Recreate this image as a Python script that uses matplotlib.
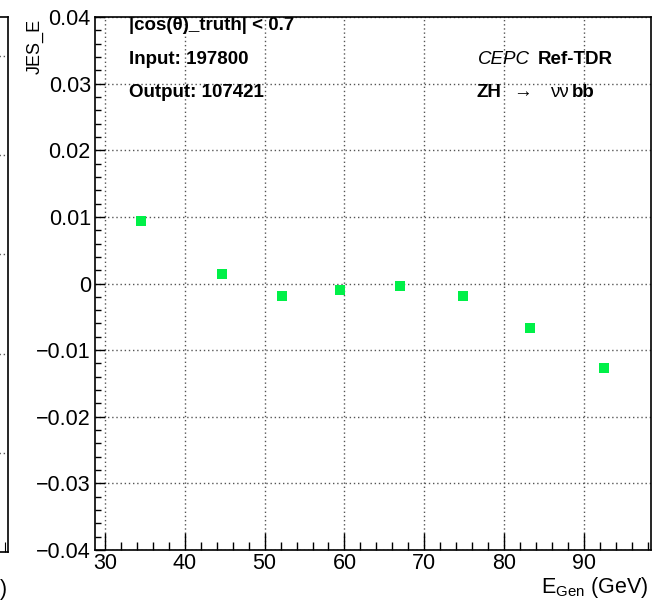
import numpy as np
import matplotlib
matplotlib.use("Agg")
from matplotlib import pyplot as plt
from matplotlib.ticker import MultipleLocator

plt.rcParams['font.family'] = ['Liberation Sans', 'DejaVu Sans']
plt.rcParams['mathtext.fontset'] = 'custom'
plt.rcParams['mathtext.rm'] = 'Liberation Sans'

# donnees
e_gen = [34.55, 44.7, 52.2, 59.5, 67.0, 74.9, 83.3, 92.55]
jes_e = [0.0094, 0.0014, -0.0019, -0.0010, -0.00035, -0.0019, -0.0067, -0.0127]
jes_err = [0.0006, 0.0002, 0.0002, 0.0003, 0.0002, 0.0002, 0.0002, 0.0002]

x_ticks = [30, 40, 50, 60, 70, 80, 90]
y_ticks = [-0.04, -0.03, -0.02, -0.01, 0, 0.01, 0.02, 0.03, 0.04]
y_labels = ["\u22120.04", "\u22120.03", "\u22120.02", "\u22120.01", "0",
            "0.01", "0.02", "0.03", "0.04"]

W, H = 654, 605
fig = plt.figure(figsize=(W / 100, H / 100), dpi=100)

def fx(px):
    return px / W

def fy(py):
    return 1 - py / H

# bout du panneau de gauche (coupe)
ax0 = fig.add_axes([-0.3, fy(552), 0.3 + fx(8.3), fy(17) - fy(552)])
ax0.set_xlim(0, 1)
ax0.set_ylim(0, 1)
ax0.set_yticks([0.185, 0.371, 0.557, 0.742, 0.928])
ax0.set_xticks([0.985])
ax0.tick_params(direction='in', labelleft=False, labelbottom=False, length=7, left=False)
ax0.grid(axis='y', linestyle=(0, (1, 2)), color='#555555', linewidth=1)
for s in ax0.spines.values():
    s.set_linewidth(1.2)
fig.text(fx(0), fy(590), ")", fontsize=15.5, ha='left', va='center')

# panneau principal
ax = fig.add_axes([fx(95), fy(550), fx(651) - fx(95), fy(17) - fy(550)])
ax.errorbar(e_gen, jes_e, yerr=jes_err, fmt='s', color='#00f048', ecolor='#00f048',
            markersize=7, elinewidth=2, capsize=0, markeredgewidth=0)
ax.set_xlim(28.75, 98.4)
ax.set_ylim(-0.04, 0.04)
ax.set_xticks(x_ticks)
ax.set_yticks(y_ticks)
ax.set_yticklabels(y_labels)
ax.xaxis.set_minor_locator(MultipleLocator(2))
ax.yaxis.set_minor_locator(MultipleLocator(0.002))
ax.tick_params(axis='x', which='major', direction='in', length=12, width=1, labelsize=15.5, pad=2)
ax.tick_params(axis='x', which='minor', direction='in', length=6, width=1)
ax.tick_params(axis='y', which='major', direction='in', length=7.5, width=1, labelsize=15.5, pad=3)
ax.tick_params(axis='y', which='minor', direction='in', length=4.5, width=1)
ax.grid(which='major', linestyle=(0, (1, 2)), color='#555555', linewidth=1)
for s in ax.spines.values():
    s.set_linewidth(1.2)

fig.text(fx(649), fy(588), r"E$_{\mathregular{Gen}}$ (GeV)", fontsize=15.5, ha='right', va='center')
fig.text(fx(44), fy(19), "JES_E", fontsize=13, rotation=90, ha='right', va='top')

# textes
fs = 13.5
fig.text(fx(129), fy(26), "|cos(\u03b8)_truth| < 0.7", fontsize=fs, fontweight='bold', va='center')
fig.text(fx(129), fy(59), "Input: 197800", fontsize=fs, fontweight='bold', va='center')
fig.text(fx(129), fy(92.5), "Output: 107421", fontsize=fs, fontweight='bold', va='center')
fig.text(fx(613), fy(59), "Ref-TDR", fontsize=fs, fontweight='bold', va='center', ha='right')
fig.text(fx(530), fy(59), "CEPC", fontsize=fs, style='italic', va='center', ha='right')
fig.text(fx(476.5), fy(92.5), "ZH", fontsize=fs, fontweight='bold', va='center')
fig.text(fx(513), fy(92.5), "\u2192", fontsize=fs, va='center')
fig.text(fx(550), fy(92.5), "\u03bd\u03bd", fontsize=fs, va='center')
fig.text(fx(572), fy(92.5), "bb", fontsize=fs, fontweight='bold', va='center')

fig.savefig("out.png", dpi=100)
